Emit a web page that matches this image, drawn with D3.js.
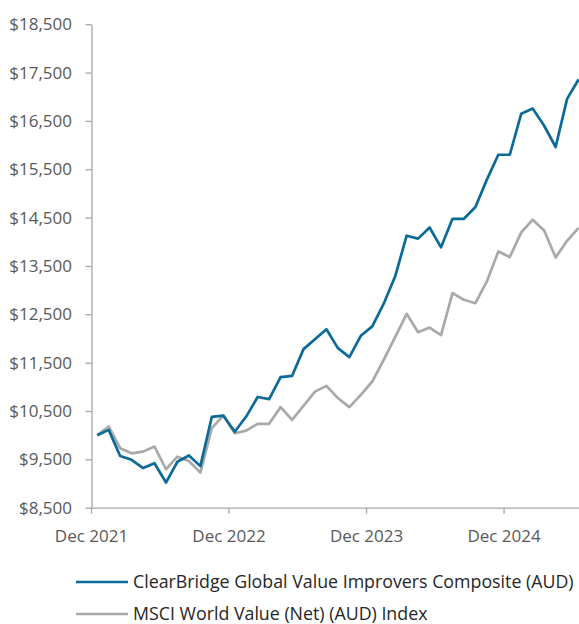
<!DOCTYPE html>
<html>
<head>
<meta charset="utf-8">
<script src="https://cdn.jsdelivr.net/npm/d3@7"></script>
<style>
  html, body { margin: 0; padding: 0; background: #fff; }
  svg { display: block; font-family: "Open Sans", "Noto Sans", sans-serif; }
</style>
</head>
<body>
<svg id="chart" width="579" height="624"></svg>
<script>
// ---- Data ----
const months = [
  "Dec 2021","Jan 2022","Feb 2022","Mar 2022","Apr 2022","May 2022","Jun 2022","Jul 2022","Aug 2022","Sep 2022","Oct 2022","Nov 2022",
  "Dec 2022","Jan 2023","Feb 2023","Mar 2023","Apr 2023","May 2023","Jun 2023","Jul 2023","Aug 2023","Sep 2023","Oct 2023","Nov 2023",
  "Dec 2023","Jan 2024","Feb 2024","Mar 2024","Apr 2024","May 2024","Jun 2024","Jul 2024","Aug 2024","Sep 2024","Oct 2024","Nov 2024",
  "Dec 2024","Jan 2025","Feb 2025","Mar 2025","Apr 2025","May 2025","Jun 2025"
];
const composite = [
  10000, 10110, 9570, 9490, 9320, 9420, 9020, 9450, 9580, 9360, 10380, 10405,
  10070, 10385, 10790, 10745, 11200, 11225, 11780, 11985, 12190, 11800, 11615, 12055,
  12250, 12720, 13285, 14125, 14065, 14295, 13885, 14475, 14475, 14720, 15285, 15800,
  15800, 16650, 16755, 16400, 15960, 16955, 17355
];
const index = [
  10000, 10180, 9730, 9625, 9660, 9765, 9295, 9555, 9465, 9225, 10145, 10405,
  10040, 10095, 10235, 10235, 10580, 10315, 10605, 10900, 11020, 10765, 10580, 10835,
  11110, 11560, 12030, 12510, 12130, 12225, 12070, 12940, 12800, 12730, 13180, 13800,
  13685, 14195, 14455, 14235, 13675, 14020, 14285
];
const yTicks = [8500, 9500, 10500, 11500, 12500, 13500, 14500, 15500, 16500, 17500, 18500];
const xTickLabels = ["Dec 2021", "Dec 2022", "Dec 2023", "Dec 2024"];
const seriesNames = ["ClearBridge Global Value Improvers Composite (AUD)", "MSCI World Value (Net) (AUD) Index"];
const seriesColors = ["#0b6a98", "#a9a9a9"];

// ---- Layout ----
const svg = d3.select("#chart");
const plotLeft = 91.5, plotBottom = 507.7, plotTop = 24.2, step = 11.46;
const x = d3.scaleBand().domain(months).range([plotLeft, plotLeft + months.length * step]).padding(0);
const y = d3.scaleLinear().domain([8500, 18500]).range([plotBottom, plotTop]);
const axisColor = "#a6a6a6";
const labelColor = "#595959";

// Y axis
const yAxis = svg.append("g").attr("transform", `translate(${plotLeft},0)`)
  .call(d3.axisLeft(y).tickValues(yTicks).tickSize(6).tickSizeOuter(0)
    .tickFormat(d => "$" + d3.format(",")(d)));
yAxis.select(".domain").attr("stroke", axisColor).attr("stroke-width", 1.3);
yAxis.selectAll(".tick line").attr("stroke", axisColor).attr("stroke-width", 1.3);
yAxis.selectAll(".tick text").attr("fill", labelColor).attr("font-size", 17)
  .attr("font-family", "'Open Sans', sans-serif").attr("x", -19.5);

// X axis
const xAxis = svg.append("g").attr("transform", `translate(0,${plotBottom})`)
  .call(d3.axisBottom(x).tickValues(xTickLabels).tickSize(6).tickSizeOuter(0));
xAxis.selectAll(".tick").attr("transform", d => `translate(${x(d)},0)`);
xAxis.select(".domain").attr("stroke", axisColor).attr("stroke-width", 1.3);
xAxis.selectAll(".tick line").attr("stroke", axisColor).attr("stroke-width", 1.3);
xAxis.selectAll(".tick text").attr("fill", labelColor).attr("font-size", 17)
  .attr("font-family", "'Open Sans', sans-serif").attr("y", 22.5);

// Lines
const line = d3.line()
  .x((d, i) => x(months[i]) + x.bandwidth() / 2)
  .y(d => y(d));
[index, composite].forEach((s, k) => {
  svg.append("path").datum(s)
    .attr("fill", "none")
    .attr("stroke", k === 0 ? seriesColors[1] : seriesColors[0])
    .attr("stroke-width", 2.7)
    .attr("stroke-linejoin", "round")
    .attr("d", line);
});

// Legend
const legend = svg.append("g");
seriesNames.forEach((name, k) => {
  const ly = 582 + k * 32;
  legend.append("line").attr("x1", 76).attr("x2", 128).attr("y1", ly).attr("y2", ly)
    .attr("stroke", seriesColors[k]).attr("stroke-width", 2.7);
  legend.append("text").attr("x", 133).attr("y", ly).attr("dy", "0.35em")
    .attr("fill", "#262626").attr("font-size", 17.8).text(name);
});
</script>
</body>
</html>
